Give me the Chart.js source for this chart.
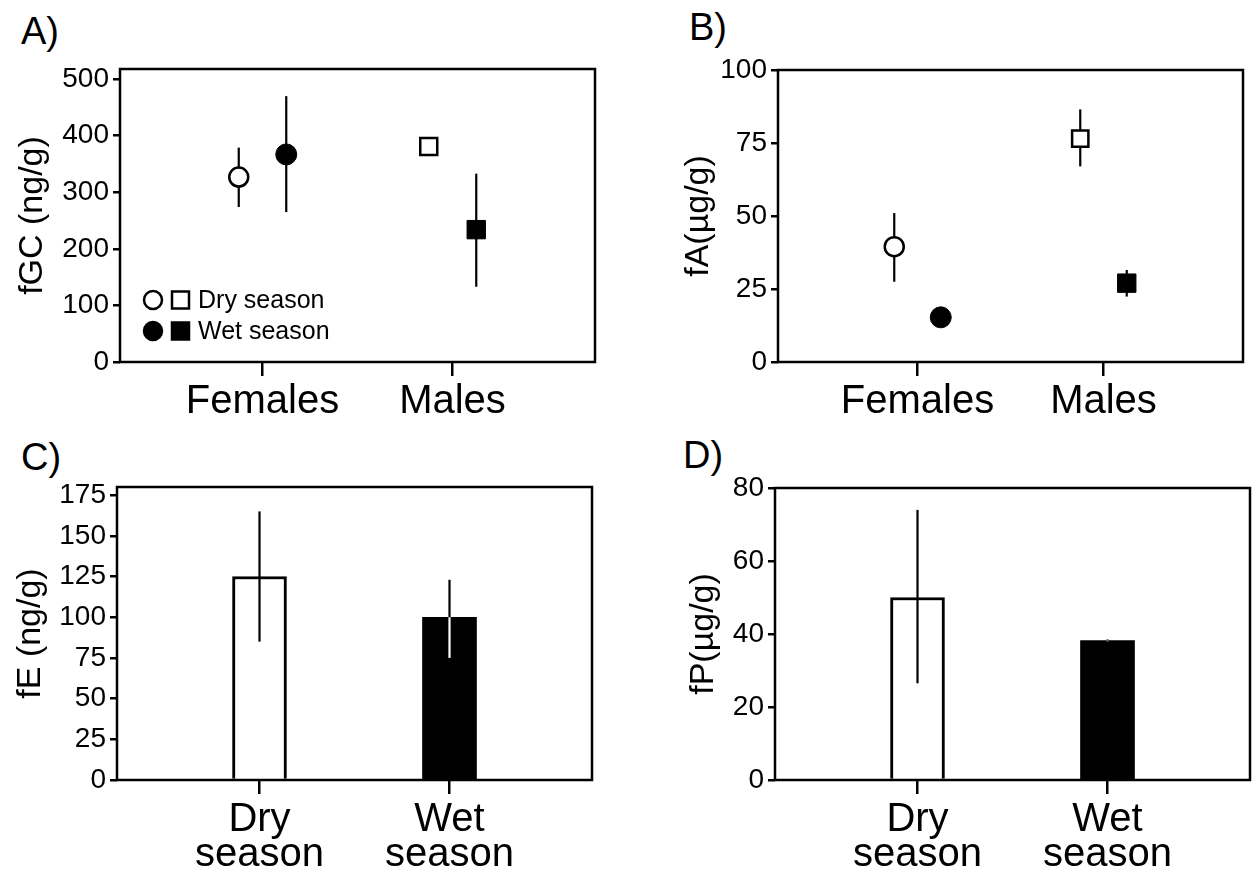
<!DOCTYPE html>
<html>
<head>
<meta charset="utf-8">
<script src="https://cdn.jsdelivr.net/npm/chart.js@4.4.1/dist/chart.umd.min.js"></script>
<style>
  body { margin: 0; background: #fff; }
  #page { position: relative; width: 1257px; height: 872px; overflow: hidden; font-family: "Liberation Sans", Arial, sans-serif; }
  .panel { position: absolute; }
  .tag { position: absolute; font-size: 38px; color: #000; line-height: 1; }
</style>
</head>
<body>
<div id="page">
  <div class="tag" style="left:21px; top:12px;">A)</div>
  <div class="tag" style="left:689px; top:8px;">B)</div>
  <div class="tag" style="left:21px; top:438px;">C)</div>
  <div class="tag" style="left:683px; top:436px;">D)</div>
  <div class="panel" style="left:0; top:0; width:628px; height:436px;"><canvas id="chartA"></canvas></div>
  <div class="panel" style="left:640px; top:0; width:617px; height:436px;"><canvas id="chartB"></canvas></div>
  <div class="panel" style="left:0; top:436px; width:628px; height:436px;"><canvas id="chartC"></canvas></div>
  <div class="panel" style="left:640px; top:436px; width:617px; height:436px;"><canvas id="chartD"></canvas></div>
</div>
<script>
// groups on the x axis
const groups = ['Females', 'Males'];
const seasons = [['Dry', 'season'], ['Wet', 'season']];

// A) fGC (ng/g), mean and error range
const fgcDry = [327, 381];
const fgcDryLo = [274, 381];
const fgcDryHi = [379, 381];
const fgcWet = [367, 234];
const fgcWetLo = [265, 133];
const fgcWetHi = [470, 333];

// B) fA (µg/g)
const faDry = [39.5, 76.5];
const faDryLo = [27.5, 67];
const faDryHi = [51, 86.5];
const faWet = [15.3, 27];
const faWetLo = [14.8, 22.4];
const faWetHi = [15.8, 31.5];

// C) fE (ng/g)
const feMean = [125, 100];
const feLo = [85, 75];
const feHi = [165, 123];

// D) fP (µg/g)
const fpMean = [50, 38.2];
const fpLo = [26.5, 38];
const fpHi = [74, 38.5];

const FONT = '"Liberation Sans", Arial, sans-serif';
Chart.defaults.font.family = FONT;
Chart.defaults.color = '#000';

const shift = 0.125; // dry / wet offset inside a group

const toPoints = (vals, off) => vals.map((v, i) => ({ x: i + 1 + off, y: v }));

// frame round the plot area
const framePlugin = {
    id: 'frame',
    afterDraw(chart) {
        const a = chart.chartArea, c = chart.ctx;
        c.save();
        c.strokeStyle = '#000';
        c.lineWidth = 2.5;
        c.strokeRect(a.left, a.top, a.right - a.left, a.bottom - a.top);
        c.restore();
    }
};

// vertical error lines, read from each dataset's lo / hi arrays
const drawErrors = (chart, onTop) => {
    const c = chart.ctx, ys = chart.scales.y;
    chart.data.datasets.forEach((ds, di) => {
        const meta = chart.getDatasetMeta(di);
        meta.data.forEach((el, i) => {
            const x = el.x;
            const yLo = ys.getPixelForValue(ds.lo[i]);
            const yHi = ys.getPixelForValue(ds.hi[i]);
            c.save();
            c.lineWidth = 2.2;
            c.strokeStyle = '#000';
            c.beginPath(); c.moveTo(x, yLo); c.lineTo(x, yHi); c.stroke();
            if (onTop && ds.filled && ds.filled[i]) {
                // the part inside a black bar shows white
                const top = ys.getPixelForValue(ds.data[i].y);
                const from = Math.max(yHi, top);
                if (yLo > from) {
                    c.strokeStyle = '#fff';
                    c.beginPath(); c.moveTo(x, from); c.lineTo(x, yLo); c.stroke();
                }
            }
            c.restore();
        });
    });
};

const errorPlugin = {
    id: 'errors',
    beforeDatasetsDraw(chart, args, opts) { if (!opts.onTop) drawErrors(chart, false); },
    afterDatasetsDraw(chart, args, opts) { if (opts.onTop) drawErrors(chart, true); }
};

// two-symbol legend of panel A
const seasonLegend = {
    id: 'seasonLegend',
    afterDraw(chart, args, opts) {
        if (!opts.show) return;
        const a = chart.chartArea, c = chart.ctx;
        const rows = [['Dry season', '#fff', 231], ['Wet season', '#000', 262]];
        c.save();
        c.lineWidth = 2.5;
        c.strokeStyle = '#000';
        rows.forEach(([txt, fill, dy]) => {
            const y = a.top + dy;
            c.fillStyle = fill;
            c.beginPath(); c.arc(a.left + 33, y, 9, 0, Math.PI * 2); c.fill(); c.stroke();
            c.fillRect(a.left + 52, y - 8.5, 17, 17); c.strokeRect(a.left + 52, y - 8.5, 17, 17);
            c.fillStyle = '#000';
            c.font = '25px ' + FONT;
            c.textBaseline = 'middle';
            c.fillText(txt, a.left + 78, y + 1);
        });
        c.restore();
    }
};

const makeOptions = (p) => ({
    responsive: true,
    maintainAspectRatio: false,
    devicePixelRatio: 1,
    animation: false,
    events: [],
    layout: { padding: { top: p.padTop, right: p.padRight, left: 0, bottom: 0 } },
    plugins: {
        legend: { display: false },
        tooltip: { enabled: false },
        errors: { onTop: p.bars },
        seasonLegend: { show: !!p.legend }
    },
    scales: {
        x: {
            type: 'linear',
            min: 0.25,
            max: 2.75,
            offset: false,
            afterBuildTicks: (s) => { s.ticks = [{ value: 1 }, { value: 2 }]; },
            afterFit: (s) => { s.height = p.xHeight; },
            border: { display: false },
            grid: { offset: false, drawOnChartArea: false, drawTicks: true, tickLength: 14, color: '#000', lineWidth: 2.5 },
            ticks: {
                color: '#000',
                padding: 8,
                maxRotation: 0,
                font: { size: 40, lineHeight: 0.88 },
                callback: (v) => p.labels[v - 1]
            }
        },
        y: {
            min: 0,
            max: p.yMax,
            afterFit: (s) => { s.width = p.yWidth; },
            border: { display: false },
            grid: { drawOnChartArea: false, drawTicks: true, tickLength: 7, color: '#000', lineWidth: 2.5 },
            ticks: { stepSize: p.step, includeBounds: false, color: '#000', padding: 4, font: { size: 28 } },
            title: { display: true, text: p.title, color: '#000', font: { size: 34 }, padding: { top: p.titlePad } }
        }
    }
});

const scatterSets = (dry, dryLo, dryHi, wet, wetLo, wetHi, rects) => ([
    {
        data: toPoints(dry, -shift), lo: dryLo, hi: dryHi,
        pointStyle: ['circle', 'rect'], pointRadius: [9.5, rects[0]],
        backgroundColor: '#fff', borderColor: '#000', borderWidth: 2.5
    },
    {
        data: toPoints(wet, shift), lo: wetLo, hi: wetHi,
        pointStyle: ['circle', 'rect'], pointRadius: [10.5, rects[1]],
        backgroundColor: '#000', borderColor: '#000', borderWidth: 1
    }
]);

const barSets = (mean, lo, hi) => ([{
    data: toPoints(mean, 0), lo: lo, hi: hi, filled: [false, true],
    backgroundColor: ['#fff', '#000'], borderColor: '#000', borderWidth: [3, 0],
    barThickness: 54
}]);

const plugins = [framePlugin, errorPlugin, seasonLegend];

new Chart(document.getElementById('chartA'), {
    type: 'scatter',
    data: { datasets: scatterSets(fgcDry, fgcDryLo, fgcDryHi, fgcWet, fgcWetLo, fgcWetHi, [12, 13]) },
    options: makeOptions({ padTop: 69, padRight: 33, xHeight: 74, yWidth: 120, yMax: 518, step: 100,
        title: 'fGC (ng/g)', titlePad: 12, labels: groups, legend: true, bars: false }),
    plugins: plugins
});

new Chart(document.getElementById('chartB'), {
    type: 'scatter',
    data: { datasets: scatterSets(faDry, faDryLo, faDryHi, faWet, faWetLo, faWetHi, [11.5, 13]) },
    options: makeOptions({ padTop: 70, padRight: 4, xHeight: 74, yWidth: 138, yMax: 100, step: 25,
        title: 'fA(µg/g)', titlePad: 38, labels: groups, bars: false }),
    plugins: plugins
});

new Chart(document.getElementById('chartC'), {
    type: 'bar',
    data: { datasets: barSets(feMean, feLo, feHi) },
    options: makeOptions({ padTop: 51, padRight: 36, xHeight: 92, yWidth: 117, yMax: 180, step: 25,
        title: 'fE (ng/g)', titlePad: 10, labels: seasons, bars: true }),
    plugins: plugins
});

new Chart(document.getElementById('chartD'), {
    type: 'bar',
    data: { datasets: barSets(fpMean, fpLo, fpHi) },
    options: makeOptions({ padTop: 52, padRight: 7, xHeight: 92, yWidth: 135, yMax: 80, step: 20,
        title: 'fP(µg/g)', titlePad: 43, labels: seasons, bars: true }),
    plugins: plugins
});
</script>
</body>
</html>
